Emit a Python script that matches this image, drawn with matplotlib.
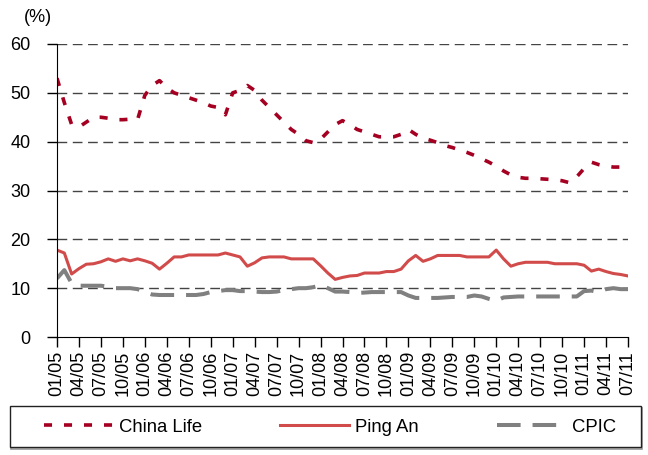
import matplotlib
matplotlib.use("Agg")
import matplotlib.pyplot as plt
from matplotlib import font_manager
from matplotlib.patches import Rectangle
import numpy as np

plt.rcParams['font.family'] = ['Liberation Sans', 'DejaVu Sans']
plt.rcParams['lines.scale_dashes'] = False

tick_labels = ['01/05', '04/05', '07/05', '10/05', '01/06', '04/06', '07/06', '10/06',
               '01/07', '04/07', '07/07', '10/07', '01/08', '04/08', '07/08', '10/08',
               '01/09', '04/09', '07/09', '10/09', '01/10', '04/10', '07/10', '10/10',
               '01/11', '04/11', '07/11']

# monthly values, Jan 2005 .. Jul 2011
china_life = [53, 48, 43.5, 43, 44, 45, 45, 44.8, 44.5, 44.5, 44.6, 44.5,
              49.5, 51.5, 52.5, 51, 50, 49.5, 49, 48.5, 48, 47.3, 47, 45.5,
              50, 50.5, 51.5, 50.5, 48.5, 47, 45.5, 44, 42.5, 41.5, 40.2, 39.8,
              40.5, 42, 43.5, 44.3, 43.5, 42.5, 42, 41.5, 41, 41, 41, 41.5,
              42.5, 41.5, 40.7, 40.3, 39.8, 39.2, 38.8, 38.3, 37.8, 37.2, 36.5, 35.8,
              35, 34, 33.2, 32.7, 32.5, 32.5, 32.4, 32.3, 32.2, 32, 31.6, 32.8,
              34.5, 35.8, 35.3, 35, 34.8, 34.8, 34.8]

ping_an = [17.8, 17.2, 12.9, 14, 14.9, 15, 15.4, 16, 15.5, 16, 15.6, 16,
           15.6, 15.1, 13.9, 15.1, 16.4, 16.4, 16.8, 16.8, 16.8, 16.8, 16.8, 17.2,
           16.8, 16.4, 14.5, 15.2, 16.2, 16.4, 16.4, 16.4, 16, 16, 16, 16,
           14.6, 13.1, 11.8, 12.2, 12.5, 12.6, 13.1, 13.1, 13.1, 13.4, 13.4, 13.9,
           15.6, 16.7, 15.5, 16, 16.7, 16.7, 16.7, 16.7, 16.4, 16.4, 16.4, 16.4,
           17.8, 16, 14.5, 15, 15.3, 15.3, 15.3, 15.3, 15, 15, 15, 15,
           14.7, 13.5, 13.9, 13.4, 13, 12.8, 12.5]

cpic = [12, 13.7, 11, 10.5, 10.5, 10.5, 10.5, 10.3, 10, 10, 10, 9.8,
        9.2, 8.7, 8.6, 8.6, 8.6, 8.6, 8.6, 8.6, 8.8, 9.2, 9.4, 9.6,
        9.6, 9.4, 9.4, 9.3, 9.2, 9.2, 9.3, 9.6, 9.8, 10, 10, 10.2,
        10.6, 10, 9.3, 9.3, 9.2, 9, 9.1, 9.2, 9.2, 9.2, 9.2, 9.2,
        8.5, 8, 8, 8, 8, 8.1, 8.2, 8.2, 8.2, 8.5, 8.3, 7.8,
        7.4, 8.1, 8.2, 8.3, 8.3, 8.3, 8.3, 8.3, 8.3, 8.3, 8.3, 8.3,
        9.4, 9.5, 9.2, 9.8, 10, 9.8, 9.8]

x = np.arange(len(china_life))

fig = plt.figure(figsize=(6.48, 4.55), dpi=100)
ax = fig.add_axes([57 / 648, 1 - 337 / 455, (628 - 57) / 648, (337 - 44) / 455])

ax.set_ylim(0, 60)
ax.set_xlim(0, len(x) - 1)
ax.set_yticks(np.arange(0, 61, 10))
ax.set_xticks(np.arange(0, len(x), 3))
ax.set_xticklabels(tick_labels, rotation=90, fontsize=13)
ax.tick_params(axis='y', labelsize=13, length=7, pad=12, width=1)
ax.tick_params(axis='x', length=7, pad=3, width=1)

for v in range(10, 61, 10):
    ax.axhline(v, color='#444444', lw=1, dashes=(7, 4), zorder=0)

for s in ['top', 'right']:
    ax.spines[s].set_visible(False)

l1, = ax.plot(x, china_life, color='#A50021', lw=2.6, dashes=(5.8, 8.6),
              dash_capstyle='butt', label='China Life')
l3, = ax.plot(x, cpic, color='#808080', lw=2.9, dashes=(17, 8.6),
              dash_capstyle='butt', label='CPIC')
l2, = ax.plot(x, ping_an, color='#D24B4B', lw=2.2, label='Ping An')

fig.text(38 / 648, 1 - 17 / 455, '(%)', fontsize=13, ha='center', va='center')

# legend: narrow font if present, else regular at a size of similar width
names = {f.name for f in font_manager.fontManager.ttflist}
if 'Liberation Sans Narrow' in names:
    leg_font, leg_size = 'Liberation Sans Narrow', 15
else:
    leg_font, leg_size = 'Liberation Sans', 13.3
em = leg_size * 100 / 72

# box with a faint shadow
fig.patches.append(Rectangle((10.5 / 648, 1 - 448.5 / 455), 631 / 648, 41 / 455,
                             transform=fig.transFigure, fill=False,
                             edgecolor='#999999', lw=1.2))
fig.patches.append(Rectangle((9.5 / 648, 1 - 447 / 455), 631 / 648, 41 / 455,
                             transform=fig.transFigure, facecolor='white',
                             edgecolor='#222222', lw=1))
fig.legend(handles=[l1, l2, l3], loc='center', ncol=3, frameon=False,
           bbox_to_anchor=(330 / 648, 1 - 427 / 455),
           prop={'family': leg_font, 'size': leg_size},
           handlelength=69 / em, handletextpad=6 / em, columnspacing=78 / em,
           borderaxespad=0, borderpad=0)

fig.savefig('out.png', dpi=100)
